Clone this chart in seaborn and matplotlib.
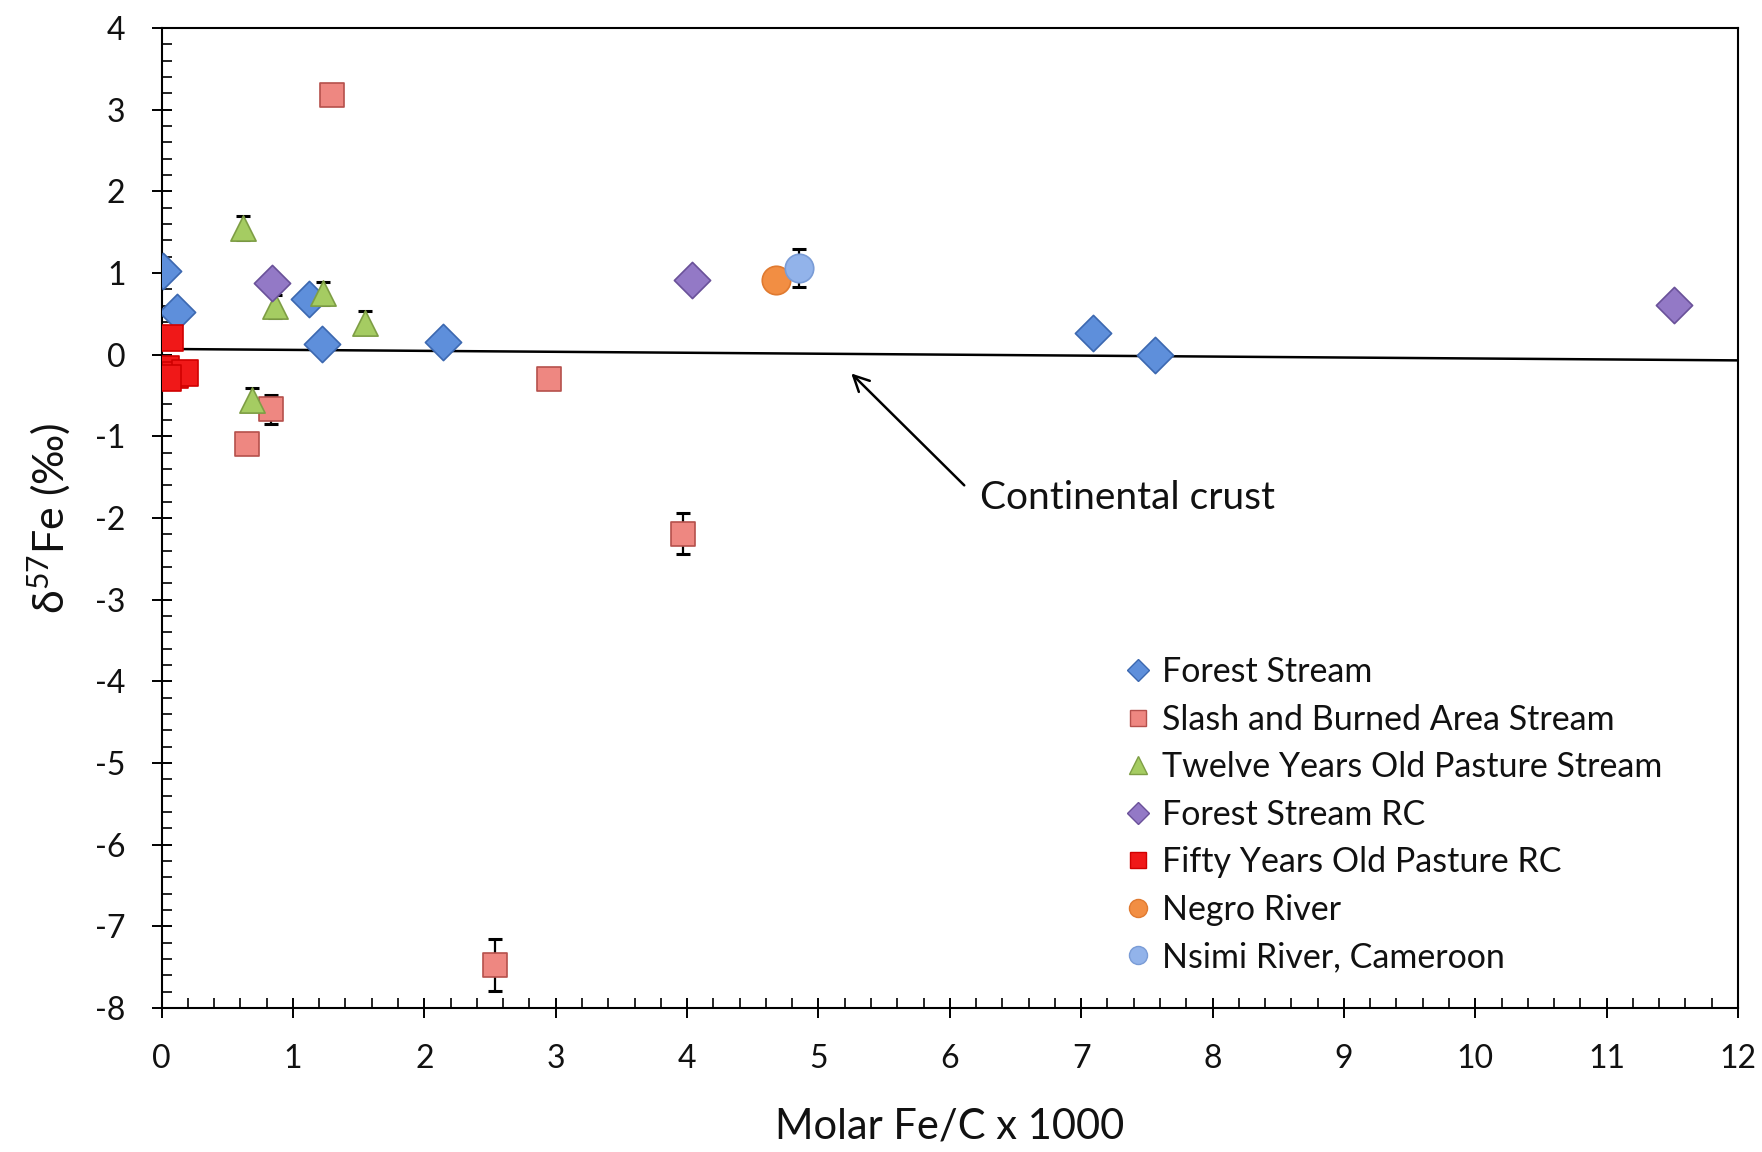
import matplotlib
matplotlib.use("Agg")
import matplotlib.pyplot as plt
from matplotlib.lines import Line2D
from matplotlib.ticker import MultipleLocator
import numpy as np
import pandas as pd
import seaborn as sns

# ---- data: molar Fe/C x 1000 vs d57Fe (permil), with 2SD where shown ----
forest_x = [0.01, 0.12, 1.12, 1.22, 2.14, 7.09, 7.56]
forest_y = [1.03, 0.52, 0.68, 0.13, 0.15, 0.27, -0.01]
forest_err = [0.05, 0.05, 0.05, 0.05, 0.05, 0.05, 0.05]

slash_x = [1.30, 2.95, 0.65, 0.83, 3.97, 2.54]
slash_y = [3.18, -0.30, -1.10, -0.67, -2.19, -7.47]
slash_err = [0.08, 0.08, 0.08, 0.18, 0.25, 0.32]

twelve_x = [0.62, 0.86, 1.23, 1.55, 0.69]
twelve_y = [1.55, 0.59, 0.75, 0.39, -0.55]
twelve_err = [0.15, 0.14, 0.14, 0.14, 0.14]

forest_rc_x = [0.84, 4.04, 11.51]
forest_rc_y = [0.88, 0.91, 0.61]
forest_rc_err = [0.05, 0.05, 0.05]

fifty_x = [0.065, 0.03, 0.10, 0.18, 0.05]
fifty_y = [0.20, -0.17, -0.25, -0.22, -0.28]
fifty_err = [0.05, 0.05, 0.05, 0.05, 0.05]

negro_x = [4.68]
negro_y = [0.92]
negro_err = [0.05]

nsimi_x = [4.85]
nsimi_y = [1.06]
nsimi_err = [0.23]

crust_x = [0.0, 12.0]
crust_y = [0.07, -0.07]

group_names = [
    "Forest Stream",
    "Slash and Burned Area Stream",
    "Twelve Years Old Pasture Stream",
    "Forest Stream RC",
    "Fifty Years Old Pasture RC",
    "Negro River",
    "Nsimi River, Cameroon",
]
x_ticks = list(range(0, 13))
y_ticks = list(range(-8, 5))

series = [
    (forest_x, forest_y, forest_err),
    (slash_x, slash_y, slash_err),
    (twelve_x, twelve_y, twelve_err),
    (forest_rc_x, forest_rc_y, forest_rc_err),
    (fifty_x, fifty_y, fifty_err),
    (negro_x, negro_y, negro_err),
    (nsimi_x, nsimi_y, nsimi_err),
]

frames = []
for name, (xs, ys, es) in zip(group_names, series):
    frames.append(pd.DataFrame({"fec": xs, "d57": ys, "err": es, "group": name}))
df = pd.concat(frames, ignore_index=True)

# ---- styling ----
styles = {
    "Forest Stream": dict(marker="D", face="#5E8FDB", edge="#3C68B0", s=340, lm=11),
    "Slash and Burned Area Stream": dict(marker="s", face="#EE8781", edge="#B5504C", s=320, lm=12),
    "Twelve Years Old Pasture Stream": dict(marker="^", face="#A5CC62", edge="#7E9E45", s=330, lm=13),
    "Forest Stream RC": dict(marker="D", face="#9379C6", edge="#6A5199", s=340, lm=11),
    "Fifty Years Old Pasture RC": dict(marker="s", face="#F01818", edge="#D00000", s=330, lm=12),
    "Negro River": dict(marker="o", face="#F28E43", edge="#E07A30", s=420, lm=13),
    "Nsimi River, Cameroon": dict(marker="o", face="#92B3EA", edge="#7A9CD6", s=420, lm=13),
}

sns.set_theme(style="white")
plt.rcParams["font.family"] = ["Lato", "DejaVu Sans"]
plt.rcParams["mathtext.fontset"] = "custom"
plt.rcParams["mathtext.rm"] = "Lato"
plt.rcParams["mathtext.it"] = "Lato:italic"
plt.rcParams["axes.unicode_minus"] = False

fig = plt.figure(figsize=(17.62, 11.52), dpi=100)
ax = fig.add_axes([0.0917, 0.125, 0.8947, 0.8507])

# reference line for continental crust
sns.lineplot(x=crust_x, y=crust_y, ax=ax, color="black", linewidth=1.8, zorder=2)

for name in group_names:
    sub = df[df["group"] == name]
    st = styles[name]
    ax.errorbar(sub["fec"], sub["d57"], yerr=sub["err"], fmt="none",
                ecolor="black", elinewidth=1.6, capsize=5, capthick=2.2, zorder=3)
    sns.scatterplot(data=sub, x="fec", y="d57", ax=ax, marker=st["marker"],
                    s=st["s"], color=st["face"], edgecolor=st["edge"],
                    linewidth=1.2, zorder=4, legend=False)

ax.set_xlim(0, 12)
ax.set_ylim(-8, 4)
ax.set_xticks(x_ticks)
ax.set_yticks(y_ticks)
ax.xaxis.set_minor_locator(MultipleLocator(0.2))
ax.yaxis.set_minor_locator(MultipleLocator(0.2))
ax.tick_params(axis="both", which="major", direction="inout", length=14, width=1.4,
               color="black", labelsize=23, labelcolor="#111111",
               bottom=True, left=True, top=False, right=False)
ax.tick_params(axis="both", which="minor", direction="in", length=7, width=1.2,
               color="black", bottom=True, left=True, top=False, right=False)
ax.tick_params(axis="x", which="major", pad=19)
ax.tick_params(axis="y", which="major", pad=19)

for sp in ax.spines.values():
    sp.set_visible(True)
    sp.set_color("black")
    sp.set_linewidth(1.5)

ax.set_xlabel("Molar Fe/C x 1000", fontsize=30, color="#111111", labelpad=24)
ax.set_ylabel("δ$^{57}$Fe (‰)", fontsize=31, color="#111111", labelpad=16)

# annotation for the crust line
ax.annotate("", xy=(5.25, -0.23), xytext=(6.11, -1.60),
            arrowprops=dict(arrowstyle="->", color="black", lw=1.8,
                            mutation_scale=28, shrinkA=0, shrinkB=0))
ax.text(6.23, -1.75, "Continental crust", fontsize=28, color="#111111",
        va="center", ha="left")

handles = [
    Line2D([], [], linestyle="none", marker=styles[n]["marker"],
           markersize=styles[n]["lm"], markerfacecolor=styles[n]["face"],
           markeredgecolor=styles[n]["edge"], label=n)
    for n in group_names
]
ax.legend(handles=handles, loc="upper left", bbox_to_anchor=(0.611, 0.359),
          frameon=False, fontsize=24.5, handlelength=0.8, handletextpad=0.3,
          labelspacing=0.455, borderpad=0, borderaxespad=0,
          labelcolor="#111111")

fig.savefig("out.png", dpi=100, facecolor="white")
